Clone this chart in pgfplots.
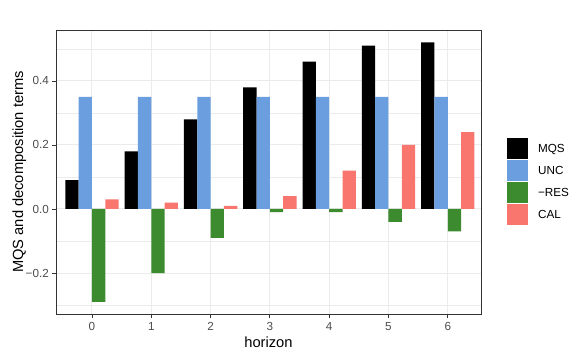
\documentclass[border=0pt]{standalone}
\usepackage{pgfplots}
\pgfplotsset{compat=1.18}
\usepackage{fontspec}
\setmainfont{Liberation Sans}
\definecolor{unc}{HTML}{6A9EDF}
\definecolor{res}{HTML}{3D8B2F}
\definecolor{cal}{HTML}{F8766D}
\definecolor{gridgray}{HTML}{EBEBEB}
\definecolor{gray20}{HTML}{333333}
\definecolor{gray30}{HTML}{4D4D4D}
\pgfplotsset{
    sqkey/.style={legend image code/.code={\fill[##1] (0pt,-10.5pt) rectangle (21pt,10.5pt);}},
}
\begin{document}
\begin{tikzpicture}[x=1pt,y=1pt]
\useasboundingbox (-56,-44) rectangle (525,314);
\begin{axis}[
    at={(0,0)}, anchor=south west,
    scale only axis, width=425pt, height=284pt,
    xmin=-0.607, xmax=6.56, ymin=-0.328, ymax=0.559,
    ybar=0pt, bar width=0.225,
    /pgf/number format/assume math mode=true,
    xtick={0,1,2,3,4,5,6},
    xticklabels={0,1,2,3,4,5,6},
    ytick={-0.2,0,0.2,0.4},
    yticklabels={−0.2,0.0,0.2,0.4},
    minor ytick={-0.3,-0.1,0.1,0.3,0.5},
    grid=both,
    major grid style={color=gridgray, line width=1pt},
    minor grid style={color=gridgray, line width=0.5pt},
    axis line style={gray20, line width=0.8pt},
    tick align=outside, xtick pos=bottom, ytick pos=left,
    major tick length=3.7pt, minor tick length=0pt,
    tick style={gray20, line width=0.8pt},
    ticklabel style={font=\fontsize{11.7}{13}\selectfont, text=gray30},
    xticklabel style={yshift=-1pt},
    xlabel={horizon},
    ylabel={MQS and decomposition terms},
    label style={font=\fontsize{14.7}{16}\selectfont},
    xlabel style={at={(axis description cs:0.5,0)}, anchor=base, yshift=-34pt},
    ylabel style={at={(axis description cs:-0.0776,0.5)}, anchor=base, rotate=0},
    legend style={at={(1.054,0.465)}, anchor=west, draw=none, fill=none,
        font=\fontsize{11.7}{13}\selectfont, row sep=1pt,
        nodes={inner sep=0pt, anchor=west}},
    /tikz/every odd column/.style={column sep=10pt},
    legend cell align=left,
]
\addplot[fill=black, draw=none, sqkey] coordinates {
    (0,0.09) (1,0.18) (2,0.28) (3,0.38) (4,0.46) (5,0.51) (6,0.52)
};
\addplot[fill=unc, draw=none, sqkey] coordinates {
    (0,0.35) (1,0.35) (2,0.35) (3,0.35) (4,0.35) (5,0.35) (6,0.35)
};
\addplot[fill=res, draw=none, sqkey] coordinates {
    (0,-0.29) (1,-0.20) (2,-0.09) (3,-0.01) (4,-0.01) (5,-0.04) (6,-0.07)
};
\addplot[fill=cal, draw=none, sqkey] coordinates {
    (0,0.03) (1,0.02) (2,0.01) (3,0.04) (4,0.12) (5,0.20) (6,0.24)
};
\legend{MQS, UNC, −RES, CAL}
\end{axis}
\end{tikzpicture}
\end{document}
